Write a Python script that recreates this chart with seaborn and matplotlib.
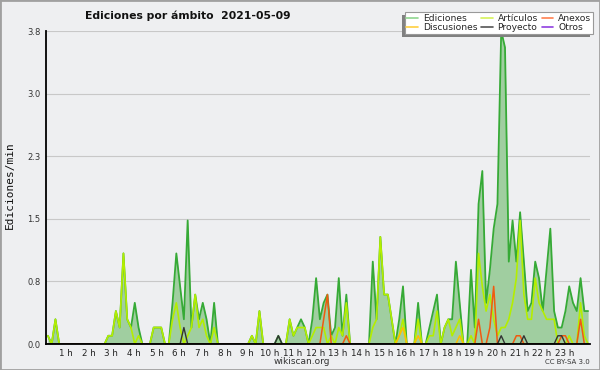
import numpy as np
import pandas as pd
import matplotlib
matplotlib.use("Agg")
import matplotlib.pyplot as plt
import matplotlib.transforms as mtransforms
from matplotlib.lines import Line2D
from matplotlib.patches import Rectangle
import seaborn as sns

# ---- data: edits per minute, 10-minute bins (144 per day) ----
ediciones = [
    0.1, 0.0, 0.3, 0.0, 0.0, 0.0,   # 0 h
    0.0, 0.0, 0.0, 0.0, 0.0, 0.0,   # 1 h
    0.0, 0.0, 0.0, 0.0, 0.1, 0.1,   # 2 h
    0.4, 0.2, 1.1, 0.3, 0.2, 0.5,   # 3 h
    0.2, 0.0, 0.0, 0.0, 0.2, 0.2,   # 4 h
    0.2, 0.0, 0.0, 0.5, 1.1, 0.7,   # 5 h
    0.3, 1.5, 0.2, 0.6, 0.3, 0.5,   # 6 h
    0.3, 0.0, 0.5, 0.0, 0.0, 0.0,   # 7 h
    0.0, 0.0, 0.0, 0.0, 0.0, 0.0,   # 8 h
    0.1, 0.0, 0.4, 0.0, 0.0, 0.0,   # 9 h
    0.0, 0.1, 0.0, 0.0, 0.3, 0.1,   # 10 h
    0.2, 0.3, 0.2, 0.0, 0.3, 0.8,   # 11 h
    0.3, 0.5, 0.6, 0.1, 0.2, 0.8,   # 12 h
    0.1, 0.6, 0.0, 0.0, 0.0, 0.0,   # 13 h
    0.0, 0.0, 1.0, 0.3, 1.3, 0.6,   # 14 h
    0.6, 0.3, 0.0, 0.3, 0.7, 0.0,   # 15 h
    0.0, 0.0, 0.5, 0.0, 0.0, 0.2,   # 16 h
    0.4, 0.6, 0.0, 0.2, 0.3, 0.3,   # 17 h
    1.0, 0.5, 0.0, 0.0, 0.9, 0.2,   # 18 h
    1.7, 2.1, 0.5, 0.9, 1.4, 1.7,   # 19 h
    3.8, 3.6, 1.0, 1.5, 1.0, 1.6,   # 20 h
    1.0, 0.4, 0.5, 1.0, 0.8, 0.4,   # 21 h
    0.9, 1.4, 0.4, 0.2, 0.2, 0.4,   # 22 h
    0.7, 0.5, 0.4, 0.8, 0.4, 0.4,   # 23 h
]
articulos = [
    0.1, 0.0, 0.3, 0.0, 0.0, 0.0,
    0.0, 0.0, 0.0, 0.0, 0.0, 0.0,
    0.0, 0.0, 0.0, 0.0, 0.1, 0.1,
    0.4, 0.2, 1.1, 0.3, 0.2, 0.0,
    0.1, 0.0, 0.0, 0.0, 0.2, 0.2,
    0.2, 0.0, 0.0, 0.3, 0.5, 0.2,
    0.0, 0.1, 0.2, 0.6, 0.2, 0.3,
    0.1, 0.0, 0.2, 0.0, 0.0, 0.0,
    0.0, 0.0, 0.0, 0.0, 0.0, 0.0,
    0.1, 0.0, 0.4, 0.0, 0.0, 0.0,
    0.0, 0.0, 0.0, 0.0, 0.3, 0.1,
    0.2, 0.2, 0.2, 0.0, 0.1, 0.2,
    0.2, 0.2, 0.0, 0.1, 0.0, 0.2,
    0.1, 0.5, 0.0, 0.0, 0.0, 0.0,
    0.0, 0.0, 0.2, 0.3, 1.3, 0.6,
    0.6, 0.3, 0.0, 0.1, 0.3, 0.0,
    0.0, 0.0, 0.3, 0.0, 0.0, 0.1,
    0.1, 0.4, 0.0, 0.2, 0.3, 0.1,
    0.2, 0.3, 0.0, 0.0, 0.1, 0.0,
    1.1, 0.7, 0.4, 0.6, 0.3, 0.1,
    0.2, 0.2, 0.3, 0.5, 0.8, 1.5,
    0.6, 0.3, 0.3, 0.8, 0.5, 0.4,
    0.3, 0.3, 0.3, 0.0, 0.0, 0.0,
    0.1, 0.0, 0.0, 0.5, 0.1, 0.0,
]
discusiones = [0.0] * 93 + [0.1, 0.2, 0.0, 0.0, 0.0, 0.1] + [0.0] * 10 + [0.1] + [0.0] * 34
anexos = ([0.0] * 73 + [0.3, 0.6] + [0.0] * 4 + [0.1] + [0.0] * 34 + [0.3, 0.0, 0.0, 0.2, 0.7]
          + [0.0] * 5 + [0.1, 0.1] + [0.0] * 10 + [0.1, 0.1] + [0.0] * 3 + [0.3, 0.0, 0.0])
proyecto = ([0.0] * 36 + [0.2] + [0.0] * 24 + [0.1] + [0.0] * 58 + [0.1] + [0.0] * 5 + [0.1]
            + [0.0] * 8 + [0.1, 0.1] + [0.0] * 7)
otros = [0.0] * 144

hour_labels = [f"{h} h" for h in range(1, 24)]
title = "Ediciones por ámbito  2021-05-09"

series_names = ["Ediciones", "Discusiones", "Artículos", "Proyecto", "Anexos", "Otros"]
legend_colors = ["#8fd68f", "#ffd040", "#d6f25a", "#555555", "#ff8050", "#9040e0"]

# ---- figure ----
sns.set_theme(style="white")
plt.rcParams["font.family"] = ["DejaVu Sans"]

bg = "#eeeff1"
fig = plt.figure(figsize=(6, 3.7), dpi=100, facecolor=bg)
ax = fig.add_axes([46 / 600, 26 / 370, 544 / 600, 313 / 370])
ax.set_facecolor(bg)

hours = (np.arange(len(ediciones)) + 0.5) / 6.0
df = pd.DataFrame({"h": hours, "Ediciones": ediciones, "Artículos": articulos,
                   "Discusiones": discusiones, "Anexos": anexos,
                   "Proyecto": proyecto, "Otros": otros})

ax.fill_between(df["h"], df["Ediciones"], 0, color="#a0cea0", lw=0, zorder=1)
sns.lineplot(data=df, x="h", y="Ediciones", ax=ax, color="#36aa36", lw=1.3, zorder=2)
sns.lineplot(data=df, x="h", y="Artículos", ax=ax, color="#b4ee00", lw=1.2, zorder=2.1)
sns.lineplot(data=df, x="h", y="Discusiones", ax=ax, color="#ffbf00", lw=1.1, zorder=2.2)
sns.lineplot(data=df, x="h", y="Anexos", ax=ax, color="#f05a10", lw=1.1, zorder=2.3)
sns.lineplot(data=df, x="h", y="Proyecto", ax=ax, color="#333333", lw=1.0, zorder=2.4)
sns.lineplot(data=df, x="h", y="Otros", ax=ax, color="#8844dd", lw=1.0, zorder=2.0)

ax.set_xlim(0, 24)
ax.set_ylim(0, 3.8)
ymaj = [3.8 * k / 5 for k in range(6)]
ax.set_yticks(ymaj)
ax.set_yticklabels([f"{v:.1f}" for v in ymaj], fontsize=6, color="#333333")
ax.set_yticks([3.8 * k / 20 for k in range(21)], minor=True)
ax.set_xticks(range(1, 24))
ax.set_xticklabels(hour_labels, fontsize=6.3, color="#222222")
ax.set_xticks([k / 6 for k in range(145)], minor=True)
ax.tick_params(axis="both", which="both", direction="out", length=2.5, width=0.8,
               color="black", pad=1.5)
ax.tick_params(axis="x", which="major", length=3, pad=0.5)
ax.grid(axis="y", which="major", color="#c8c8c8", lw=0.8)
ax.set_axisbelow(True)
offset = mtransforms.ScaledTranslation(-2.0 / 72, 0, fig.dpi_scale_trans)
for lbl in ax.get_xticklabels():
    lbl.set_transform(lbl.get_transform() + offset)
for s in ["top", "right"]:
    ax.spines[s].set_visible(False)
for s in ["left", "bottom"]:
    ax.spines[s].set_color("black")
    ax.spines[s].set_linewidth(1.3)
    ax.spines[s].set_zorder(5)
ax.set_xlabel("")
ax.set_ylabel("")

fig.text(85 / 600, 1 - 16 / 370, title, ha="left", va="center", fontsize=7.8,
         fontweight="bold", color="#111111")
fig.text(10 / 600, 1 - 185 / 370, "Ediciones/min", rotation=90, ha="center", va="center",
         fontsize=8, family="DejaVu Sans Mono", color="#111111")
fig.text(302 / 600, 1 - 362 / 370, "wikiscan.org", ha="center", va="center",
         fontsize=6.5, color="#333333")
fig.text(590 / 600, 1 - 362 / 370, "CC BY-SA 3.0", ha="right", va="center",
         fontsize=5, color="#333333")

handles = [Line2D([], [], color=c, lw=1.2) for c in legend_colors]
leg = fig.legend(handles, series_names, ncol=3, loc="upper right",
                 bbox_to_anchor=(593 / 600, 1 - 12 / 370), bbox_transform=fig.transFigure,
                 fontsize=6.6, frameon=True, facecolor="white", edgecolor="#999999",
                 framealpha=1, fancybox=False, borderpad=0.2, labelspacing=0.0,
                 handlelength=1.3, handletextpad=0.5, columnspacing=0.4, borderaxespad=0)
leg.get_frame().set_linewidth(0.8)
leg.set_zorder(10)

fig.canvas.draw()
bb = leg.get_window_extent()
fig.add_artist(Rectangle((bb.x0 - 3, bb.y0 - 3), bb.width, bb.height, transform=None,
                         facecolor="#808080", edgecolor="none", zorder=9))
fig.add_artist(Rectangle((0, 0), 1, 1, transform=fig.transFigure, facecolor="none",
                         edgecolor="#a0a0a0", lw=2, zorder=20))

fig.savefig("out.png", dpi=100, facecolor=bg)
